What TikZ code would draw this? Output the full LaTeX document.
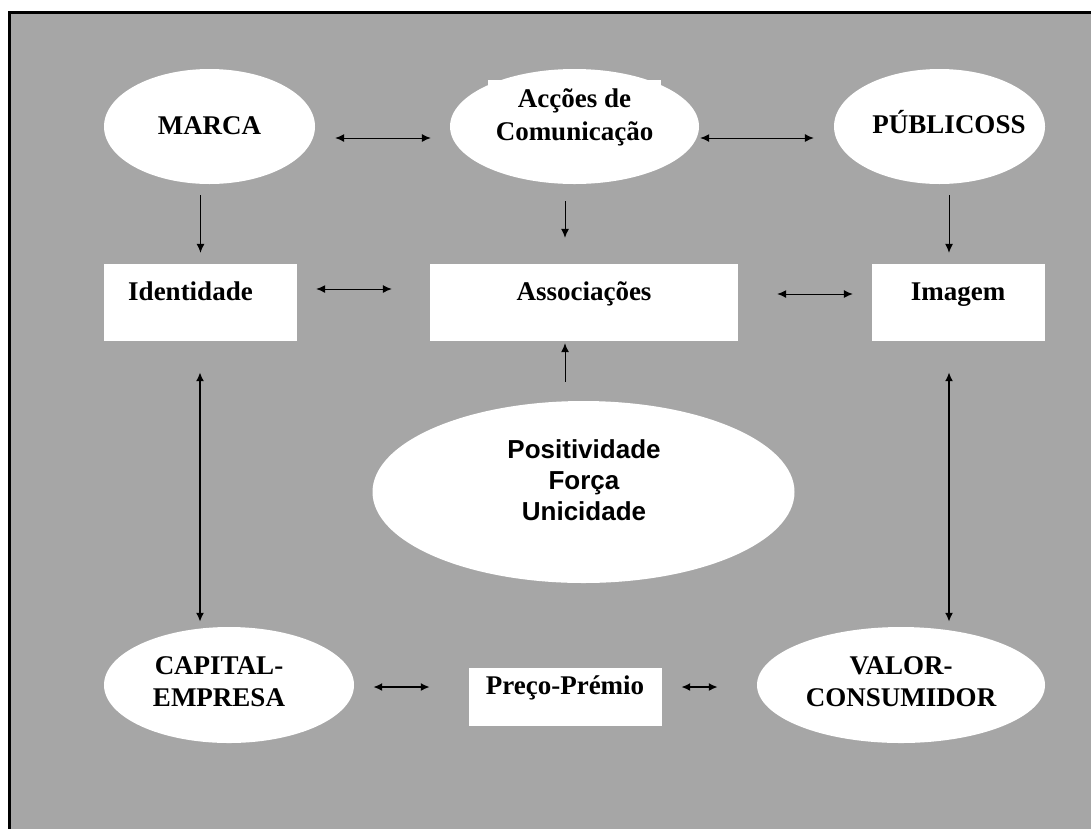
\documentclass[tikz,border=0pt]{standalone}
\usepackage{fontspec}
\setmainfont{Liberation Serif}
\newfontfamily\arialfont{Liberation Sans}
\usetikzlibrary{shapes.geometric,arrows.meta}
\tikzset{>={Latex[length=9pt,width=8pt]}}
\definecolor{panelgray}{RGB}{166,166,166}
\tikzset{
  oval/.style={ellipse, fill=white, inner sep=0pt},
  box/.style={rectangle, fill=white, inner sep=0pt},
  lbl/.style={font=\fontsize{27}{32}\selectfont\bfseries, align=center, inner sep=0pt},
  link/.style={line width=1pt},
  biglink/.style={<->, line width=2pt}
}

\begin{document}
\begin{tikzpicture}[x=1pt,y=-1pt]
  \useasboundingbox (0,0) rectangle (1091,828);
  \clip (0,0) rectangle (1091,828);
  % grey panel with black frame
  \draw[line width=3pt, fill=panelgray] (9,12) rectangle (1120,860);

  % top row
  \node (marca) at (209.5,126.5) [oval, minimum width=211pt, minimum height=115pt] {};
  \node (acc) at (574.5,126.5) [oval, minimum width=249pt, minimum height=115pt] {};
  \node (publ) at (939.5,126.5) [oval, minimum width=211pt, minimum height=115pt] {};
  \node (marcatxt) at (209.5,134) [lbl, anchor=base] {MARCA};
  \node (acctxt) at (574.5,80) [lbl, anchor=north, fill=white, minimum width=173pt, inner ysep=8pt, font=\fontsize{27}{33}\selectfont\bfseries] {Acções de\\Comunicação};
  \node (publtxt) at (949,133) [lbl, anchor=base] {PÚBLICOSS};

  % middle row
  \node (ident) at (200.5,302.5) [box, minimum width=193pt, minimum height=77pt] {};
  \node (assoc) at (584,302.5) [box, minimum width=308pt, minimum height=77pt] {};
  \node (imag) at (958.5,302.5) [box, minimum width=173pt, minimum height=77pt] {};
  \node (identtxt) at (190.5,300) [lbl, anchor=base] {Identidade};
  \node (assoctxt) at (584,300) [lbl, anchor=base] {Associações};
  \node (imagtxt) at (958,300) [lbl, anchor=base] {Imagem};

  % centre ellipse
  \node (posit) at (583.5,492) [oval, minimum width=422pt, minimum height=182pt] {};
  \node (posittxt) at (584,480) [lbl, font=\arialfont\fontsize{26}{31}\selectfont\bfseries] {Positividade\\Força\\Unicidade};

  % bottom row
  \node (capem) at (229,685) [oval, minimum width=250pt, minimum height=116pt] {};
  \node (preco) at (565.5,697) [box, minimum width=193pt, minimum height=58pt] {};
  \node (valor) at (901,685) [oval, minimum width=288pt, minimum height=116pt] {};
  \node (capemtxt) at (219,682) [lbl] {CAPITAL-\\EMPRESA};
  \node (precotxt) at (565,694) [lbl, anchor=base] {Preço-Prémio};
  \node (valortxt) at (901,682) [lbl] {VALOR-\\CONSUMIDOR};

  % connectors, top row
  \draw[link, <->, shorten <=20pt, shorten >=19pt] ([yshift=-11.5pt]marca.east) -- ([yshift=-11.5pt]acc.west);
  \draw[link, <->, shorten <=1pt, shorten >=20pt] ([yshift=-11.5pt]acc.east) -- ([yshift=-11.5pt]publ.west);
  % down into the boxes
  \draw[link, ->, shorten <=11pt, shorten >=11pt] (ident.north |- marca.south) -- (ident.north);
  \draw[link, ->, shorten <=17pt, shorten >=26pt] ([xshift=-9.5pt]acc.south) -- ([xshift=-9.5pt]acc.south |- assoc.north);
  \draw[link, ->, shorten <=11pt, shorten >=11pt] ([xshift=9.5pt]publ.south) -- ([xshift=9.5pt]publ.south |- imag.north);
  % middle row
  \draw[link, <->, shorten <=19pt, shorten >=38pt] ([yshift=13.5pt]ident.east) -- ([yshift=13.5pt]ident.east -| assoc.west);
  \draw[link, <->, shorten <=39pt, shorten >=19pt] ([yshift=8.5pt]assoc.east) -- ([yshift=8.5pt]assoc.east -| imag.west);
  \draw[link, ->, shorten <=19pt, shorten >=2pt] ([xshift=-18.5pt]posit.north) -- ([xshift=-18.5pt]posit.north |- assoc.south);
  % long verticals
  \draw[biglink, shorten <=31pt, shorten >=5pt] ([xshift=-0.5pt]ident.south) -- ([xshift=-0.5pt]ident.south |- capem.north);
  \draw[biglink, shorten <=31pt, shorten >=5pt] ([xshift=-9.5pt]imag.south) -- ([xshift=-9.5pt]imag.south |- valor.north);
  % bottom row
  \draw[biglink, shorten <=19pt, shorten >=39pt] ([yshift=-2pt]capem.east) -- ([yshift=-2pt]capem.east -| preco.west);
  \draw[biglink, shorten <=19pt, shorten >=39pt] ([yshift=-2pt]valor.west -| preco.east) -- ([yshift=-2pt]valor.west);
\end{tikzpicture}
\end{document}
